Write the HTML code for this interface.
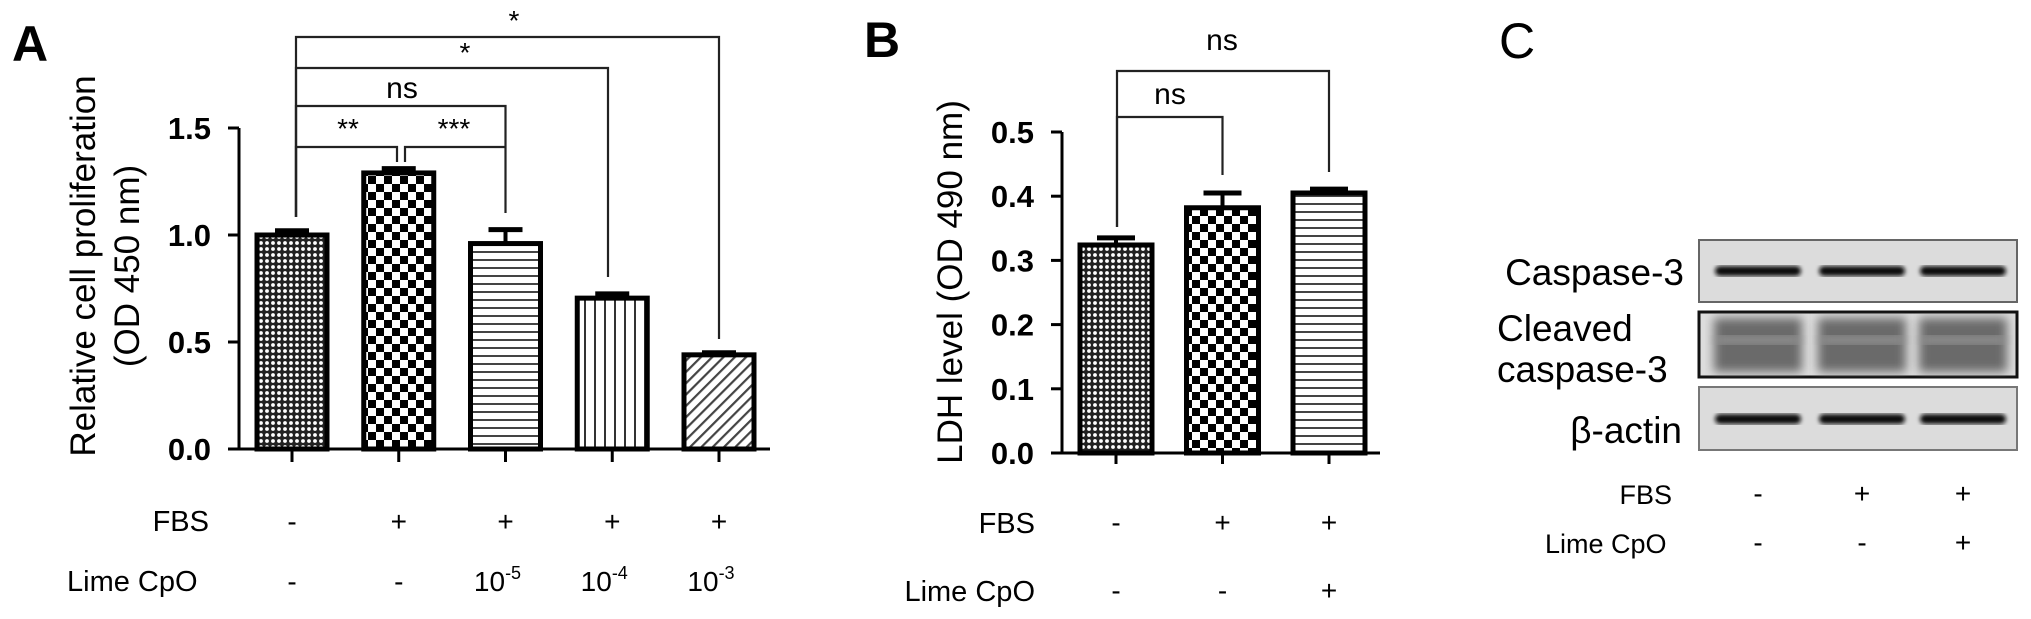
<!DOCTYPE html>
<html><head><meta charset="utf-8"><style>
html,body{margin:0;padding:0;background:#fff;}
svg{display:block;font-family:"Liberation Sans",Arial,sans-serif;}
</style></head><body>
<svg id="fig" width="2031" height="619" viewBox="0 0 2031 619" xmlns="http://www.w3.org/2000/svg">
<defs>
<pattern id="pDot" width="6" height="6" patternUnits="userSpaceOnUse"><rect width="6" height="6" fill="#222"/><circle cx="3" cy="3" r="1.9" fill="#fff"/></pattern>
<pattern id="pCheck" width="16" height="16" patternUnits="userSpaceOnUse"><rect width="16" height="16" fill="#fff"/><rect width="8" height="8" fill="#000"/><rect x="8" y="8" width="8" height="8" fill="#000"/></pattern>
<pattern id="pH" width="8" height="8" patternUnits="userSpaceOnUse"><rect width="8" height="8" fill="#fff"/><rect y="3" width="8" height="2" fill="#444"/></pattern>
<pattern id="pV" width="10" height="10" patternUnits="userSpaceOnUse"><rect width="10" height="10" fill="#fff"/><rect x="4" width="2" height="10" fill="#333"/></pattern>
<pattern id="pD" width="8" height="8" patternUnits="userSpaceOnUse" patternTransform="rotate(45)"><rect width="8" height="8" fill="#fff"/><rect x="3" width="2.2" height="8" fill="#444"/></pattern>
<filter id="blur2"><feGaussianBlur stdDeviation="2"/></filter>
<filter id="blur5"><feGaussianBlur stdDeviation="5"/></filter>
</defs>
<g id="panelA"></g>
<g id="panelB"></g>
<g id="panelC"></g>
</svg>
<script>
// Panel A data
const catA = ["ctrl","fbs","cpo-5","cpo-4","cpo-3"];
const valA = [1.00, 1.29, 0.96, 0.705, 0.44];
const errA = [0.02, 0.02, 0.065, 0.02, 0.01];
const fbsA = ["-","+","+","+","+"];
const limeA = ["-","-","10|-5","10|-4","10|-3"];
const ticksA = ["0.0","0.5","1.0","1.5"];
// Panel B data
const catB = ["ctrl","fbs","fbs-cpo"];
const valB = [0.324, 0.382, 0.405];
const errB = [0.011, 0.023, 0.006];
const fbsB = ["-","+","+"];
const limeB = ["-","-","+"];
const ticksB = ["0.0","0.1","0.2","0.3","0.4","0.5"];
// Panel C data
const fbsC = ["-","+","+"];
const limeC = ["-","-","+"];

const NS = "http://www.w3.org/2000/svg";
function mk(parent, tag, attrs, text){
  const e = document.createElementNS(NS, tag);
  for (const k in attrs) e.setAttribute(k, attrs[k]);
  if (text !== undefined) e.textContent = text;
  parent.appendChild(e);
  return e;
}

// ---------- Panel A ----------
const gA = document.getElementById("panelA");
const yA = v => 449 - v * 214;
const xA = i => 292 + i * 106.75;
const fillsA = ["url(#pDot)","url(#pCheck)","url(#pH)","url(#pV)","url(#pD)"];
let t = mk(gA,"text",{x:12,y:61,"font-size":50,"font-weight":"bold"},"A");


let ax = mk(gA,"path",{d:"M239 "+yA(1.5)+" V449 H770",stroke:"#000","stroke-width":3,fill:"none"});


ticksA.forEach((lab,i)=>{
  const v = parseFloat(lab), y = yA(v);
  mk(gA,"line",{x1:228,x2:239,y1:y,y2:y,stroke:"#000","stroke-width":3});
  const tl = mk(gA,"text",{x:211,y:y+11,"font-size":31,"font-weight":"bold","text-anchor":"end"},lab);
  
  
});
const ttl = mk(gA,"text",{transform:"translate(95,266) rotate(-90)","font-size":35,"text-anchor":"middle"},"Relative cell proliferation");


const ttl2 = mk(gA,"text",{transform:"translate(139,266) rotate(-90)","font-size":35,"text-anchor":"middle"},"(OD 450 nm)");


valA.forEach((v,i)=>{
  const cx = xA(i), top = yA(v);
  const e = yA(v + errA[i]);
  const el = mk(gA,"line",{x1:cx,x2:cx,y1:top,y2:e,stroke:"#000","stroke-width":4});
  
  
  mk(gA,"line",{x1:cx-17,x2:cx+17,y1:e,y2:e,stroke:"#000","stroke-width":5});
  const b = mk(gA,"rect",{x:cx-35,y:top,width:70,height:449-top,fill:fillsA[i],stroke:"#000","stroke-width":5});
  
  
  mk(gA,"line",{x1:cx,x2:cx,y1:449,y2:462,stroke:"#000","stroke-width":3});
  const f = mk(gA,"text",{x:cx,y:531,"font-size":28,"text-anchor":"middle"},fbsA[i]);
  
  
  const parts = limeA[i].split("|");
  const l = mk(gA,"text",{x:cx-(parts[1]?8:0),y:591,"font-size":28,"text-anchor":"middle"},parts[0]);
  
  
  if (parts[1]) { mk(l,"tspan",{dy:-12,"font-size":18},parts[1]); }
});
let lf = mk(gA,"text",{x:209,y:531,"font-size":29,"text-anchor":"end"},"FBS");
 
let ll = mk(gA,"text",{x:67,y:591,"font-size":29},"Lime CpO");
 
function bracket(g, x1, y1a, x2, y2a, yb, lab, lx, ly, name){
  const p = mk(g,"path",{d:`M${x1} ${y1a} V${yb} H${x2} V${y2a}`,stroke:"#222","stroke-width":2.2,fill:"none"});
  
  
  const tx = mk(g,"text",{x:lx,y:ly,"font-size":lab==="ns"?30:28,"text-anchor":"middle"},lab);
  
  
}
bracket(gA,296,217,xA(4),339,37,"*",514,30,"bracket-ctrl-vs-cpo3");
bracket(gA,296,217,608,277,68,"*",465,62,"bracket-ctrl-vs-cpo4");
bracket(gA,296,217,xA(2),213,106,"ns",402,98,"bracket-ctrl-vs-cpo5");
bracket(gA,296,217,397,162,147,"**",348,138,"bracket-ctrl-vs-fbs");
bracket(gA,405,162,xA(2),147,147,"***",454,138,"bracket-fbs-vs-cpo5");

// ---------- Panel B ----------
const gB = document.getElementById("panelB");
const yB = v => 453 - v * 642;
const xB = i => 1116 + i * 106.5;
const fillsB = ["url(#pDot)","url(#pCheck)","url(#pH)"];
t = mk(gB,"text",{x:864,y:57,"font-size":50,"font-weight":"bold"},"B");


ax = mk(gB,"path",{d:"M1062 "+yB(0.5)+" V453 H1380",stroke:"#000","stroke-width":3,fill:"none"});


ticksB.forEach(lab=>{
  const y = yB(parseFloat(lab));
  mk(gB,"line",{x1:1051,x2:1062,y1:y,y2:y,stroke:"#000","stroke-width":3});
  const tl = mk(gB,"text",{x:1034,y:y+11,"font-size":31,"font-weight":"bold","text-anchor":"end"},lab);
  
  
});
const tb = mk(gB,"text",{transform:"translate(962,282) rotate(-90)","font-size":35,"text-anchor":"middle"},"LDH level (OD 490 nm)");


valB.forEach((v,i)=>{
  const cx = xB(i), top = yB(v), e = yB(v+errB[i]);
  const el = mk(gB,"line",{x1:cx,x2:cx,y1:top,y2:e,stroke:"#000","stroke-width":4});
  
  
  mk(gB,"line",{x1:cx-19,x2:cx+19,y1:e,y2:e,stroke:"#000","stroke-width":5});
  const b = mk(gB,"rect",{x:cx-36,y:top,width:72,height:453-top,fill:fillsB[i],stroke:"#000","stroke-width":5});
  
  
  mk(gB,"line",{x1:cx,x2:cx,y1:453,y2:464,stroke:"#000","stroke-width":3});
  const f = mk(gB,"text",{x:cx,y:532,"font-size":28,"text-anchor":"middle"},fbsB[i]);
   
  const l = mk(gB,"text",{x:cx,y:600,"font-size":28,"text-anchor":"middle"},limeB[i]);
   
});
lf = mk(gB,"text",{x:1035,y:533,"font-size":29,"text-anchor":"end"},"FBS");
 
ll = mk(gB,"text",{x:1035,y:601,"font-size":29,"text-anchor":"end"},"Lime CpO");
 
bracket(gB,1117,227,xB(2),172,71,"ns",1222,50,"bracket-b-ctrl-vs-cpo");
bracket(gB,1117,227,xB(1),175,117,"ns",1170,104,"bracket-b-ctrl-vs-fbs");

// ---------- Panel C ----------
const gC = document.getElementById("panelC");
const laneX = [1758, 1862, 1963];
t = mk(gC,"text",{x:1499,y:58,"font-size":50},"C");
 
function blotBox(y1,y2,border,name){
  const r = mk(gC,"rect",{x:1699,y:y1,width:318,height:y2-y1,fill:"#dcdcdc",stroke:border,"stroke-width":border==="#111"?3:2});
   
}
blotBox(240,302,"#666","blot-caspase-3");
blotBox(312,377,"#111","blot-cleaved-caspase-3");
blotBox(387,450,"#777","blot-beta-actin");
laneX.forEach((x,i)=>{
  const b1 = mk(gC,"rect",{x:x-43,y:266,width:86,height:10,rx:5,fill:"#111",filter:"url(#blur2)"});
   
  const b2 = mk(gC,"rect",{x:x-44,y:318,width:88,height:54,fill:"#6a6a6a",filter:"url(#blur5)"});
   
  mk(gC,"rect",{x:x-42,y:336,width:84,height:8,fill:"#9a9a9a",filter:"url(#blur5)"});
  const b3 = mk(gC,"rect",{x:x-43,y:414,width:86,height:10,rx:5,fill:"#111",filter:"url(#blur2)"});
   
  const f = mk(gC,"text",{x:x,y:503,"font-size":28,"text-anchor":"middle"},fbsC[i]);
   
  const l = mk(gC,"text",{x:x,y:552,"font-size":28,"text-anchor":"middle"},limeC[i]);
   
});
const labs = [["Caspase-3",1684,285,"end"],["Cleaved",1497,341,"start"],["caspase-3",1497,382,"start"],["\u03b2-actin",1682,443,"end"]];
labs.forEach(a=>{
  const e = mk(gC,"text",{x:a[1],y:a[2],"font-size":37,"text-anchor":a[3]},a[0]);
   
});
lf = mk(gC,"text",{x:1672,y:504,"font-size":27,"text-anchor":"end"},"FBS");
 
ll = mk(gC,"text",{x:1545,y:553,"font-size":27},"Lime CpO");
 
</script>
</body></html>
